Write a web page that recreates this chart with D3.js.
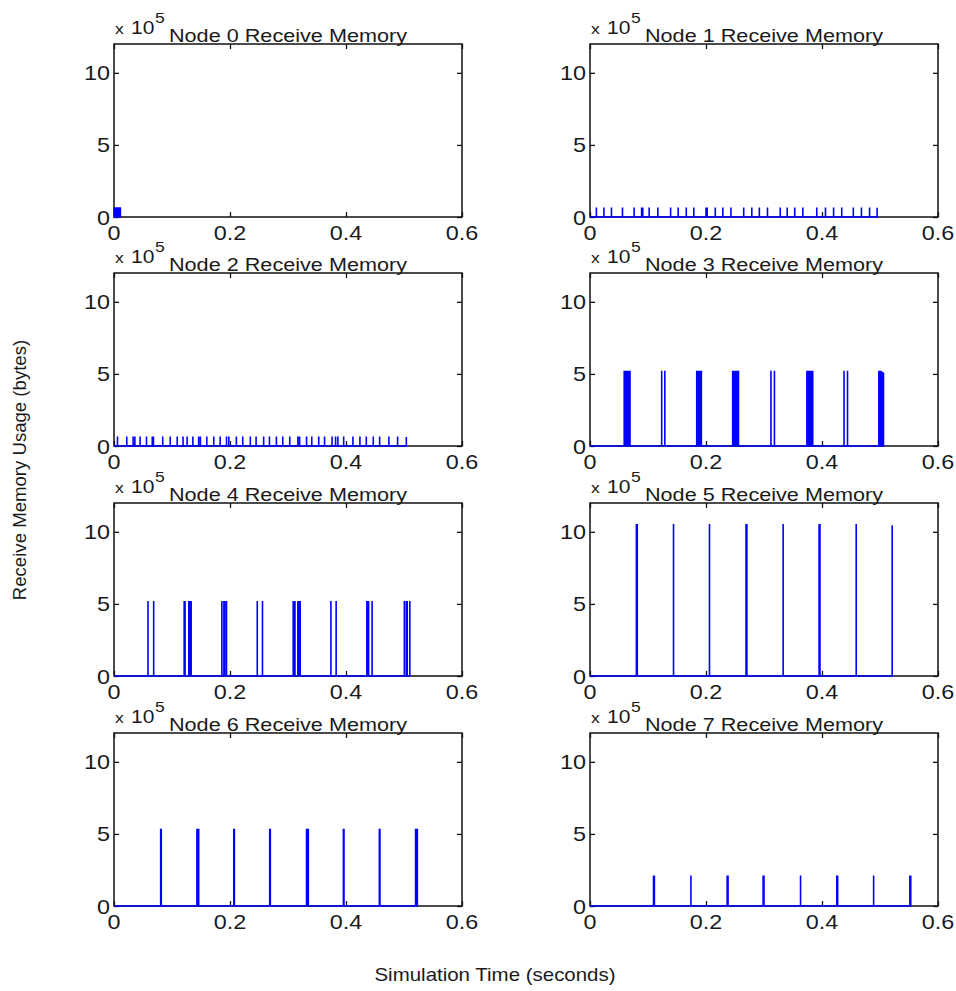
<!DOCTYPE html>
<html>
<head>
<meta charset="utf-8">
<script src="https://cdn.jsdelivr.net/npm/d3@7"></script>
<style>
  body { margin: 0; background: #fff; }
  svg text { font-family: "Liberation Sans", Arial, sans-serif; fill: #1a1a1a; }
</style>
</head>
<body>
<svg id="chart" width="956" height="991"></svg>
<script>
// spike events per node: [time (s), receive memory (x 10^5 bytes)]
let node0 = [[0.0005,0.67],[0.002,0.67],[0.0035,0.67],[0.005,0.67],[0.0065,0.67],[0.008,0.67],[0.0095,0.67],[0.011,0.67]]
let node1 = [[0.011,0.66],[0.024,0.66],[0.037,0.66],[0.056,0.66],[0.076,0.66],[0.089,0.66],[0.091,0.66],[0.102,0.66],
  [0.117,0.66],[0.139,0.66],[0.152,0.66],[0.166,0.66],[0.179,0.66],[0.200,0.66],[0.202,0.66],[0.216,0.66],[0.229,0.66],
  [0.243,0.66],[0.265,0.66],[0.279,0.66],[0.292,0.66],[0.306,0.66],[0.328,0.66],[0.340,0.66],[0.353,0.66],[0.367,0.66],
  [0.391,0.66],[0.406,0.66],[0.420,0.66],[0.434,0.66],[0.454,0.66],[0.468,0.66],[0.482,0.66],[0.495,0.64]]
let node2 = [[0.006,0.66],[0.022,0.66],[0.033,0.66],[0.036,0.66],[0.045,0.66],[0.056,0.66],[0.066,0.66],[0.068,0.66],
  [0.084,0.66],[0.097,0.66],[0.109,0.66],[0.119,0.66],[0.126,0.66],[0.136,0.66],[0.146,0.66],[0.149,0.66],[0.160,0.66],
  [0.172,0.66],[0.183,0.66],[0.194,0.66],[0.198,0.66],[0.211,0.66],[0.222,0.66],[0.235,0.66],[0.245,0.66],[0.258,0.66],
  [0.268,0.66],[0.280,0.66],[0.291,0.66],[0.303,0.66],[0.317,0.66],[0.320,0.66],[0.332,0.66],[0.341,0.66],[0.353,0.66],
  [0.363,0.66],[0.376,0.66],[0.382,0.66],[0.386,0.66],[0.396,0.66],[0.412,0.66],[0.424,0.66],[0.435,0.66],[0.447,0.66],
  [0.458,0.66],[0.474,0.66],[0.489,0.66],[0.504,0.62]]
let node3 = [[0.059,5.22],[0.061,5.22],[0.063,5.22],[0.065,5.22],[0.067,5.22],[0.069,5.22],
  [0.1236,5.22],[0.129,5.22],
  [0.184,5.22],[0.186,5.22],[0.188,5.22],[0.190,5.22],[0.192,5.22],
  [0.246,5.22],[0.248,5.22],[0.250,5.22],[0.252,5.22],[0.254,5.22],[0.256,5.22],
  [0.312,5.22],[0.318,5.22],
  [0.374,5.22],[0.376,5.22],[0.378,5.22],[0.380,5.22],[0.382,5.22],[0.384,5.22],
  [0.438,5.22],[0.444,5.22],
  [0.498,5.22],[0.500,5.22],[0.502,5.2],[0.504,5.15],[0.506,5.1]]
let node4 = [[0.0586,5.2],[0.0684,5.2],
  [0.121,5.2],[0.1225,5.2],[0.129,5.2],[0.1305,5.2],[0.133,5.2],
  [0.186,5.2],[0.1895,5.2],[0.191,5.2],[0.194,5.2],
  [0.247,5.2],[0.256,5.2],
  [0.309,5.2],[0.3105,5.2],[0.312,5.2],[0.317,5.2],[0.3185,5.2],[0.321,5.2],
  [0.374,5.2],[0.383,5.2],
  [0.436,5.2],[0.4375,5.2],[0.439,5.2],[0.445,5.2],
  [0.5006,5.2],[0.504,5.2],[0.5055,5.2],[0.510,5.2]]
let node5 = [[0.080,10.55],[0.0815,10.55],[0.144,10.55],[0.206,10.55],[0.269,10.55],[0.2705,10.55],[0.333,10.55],
  [0.395,10.55],[0.3965,10.55],[0.459,10.55],[0.521,10.45]]
let node6 = [[0.0805,5.35],[0.0815,5.35],[0.143,5.35],[0.1445,5.35],[0.146,5.35],[0.2065,5.35],[0.2075,5.35],
  [0.2685,5.35],[0.2695,5.35],[0.332,5.35],[0.3335,5.35],[0.335,5.35],[0.3955,5.35],[0.3965,5.35],
  [0.4575,5.35],[0.4585,5.35],[0.520,5.35],[0.5215,5.35],[0.523,5.35]]
let node7 = [[0.1095,2.12],[0.111,2.12],[0.174,2.12],[0.2365,2.12],[0.238,2.12],[0.2985,2.12],[0.300,2.12],
  [0.363,2.12],[0.4255,2.12],[0.427,2.12],[0.489,2.12],[0.5515,2.12],[0.553,2.12]]

let nodes = [node0,node1,node2,node3,node4,node5,node6,node7]
let titles = ['Node 0 Receive Memory','Node 1 Receive Memory','Node 2 Receive Memory','Node 3 Receive Memory',
  'Node 4 Receive Memory','Node 5 Receive Memory','Node 6 Receive Memory','Node 7 Receive Memory']
let xTicks = [0,0.2,0.4,0.6]
let yTicks = [0,5,10]

let svg = d3.select('#chart')
let colX = [114, 590], rowY = [44, 273, 503, 733]
let pw = 348, ph = 173
let stretch = 1.17

function label(g, x, y, s, size, anchor) {
  return g.append('text')
    .attr('transform', `translate(${x},${y}) scale(${stretch},1)`)
    .attr('text-anchor', anchor || 'start')
    .attr('font-size', size)
    .text(s)
}

nodes.forEach(function(data, i) {
  let x0 = colX[i % 2], y0 = rowY[Math.floor(i / 2)]
  let g = svg.append('g').attr('transform', `translate(${x0},${y0})`)
  let x = d3.scaleLinear().domain([0, 0.6]).range([0, pw])
  let y = d3.scaleLinear().domain([0, 12]).range([ph, 0])

  // inward ticks on all four sides
  let tk = 5
  g.append('g').attr('transform', `translate(0,${ph})`)
    .call(d3.axisBottom(x).tickValues(xTicks).tickSizeInner(-tk).tickSizeOuter(0).tickFormat(''))
  g.append('g')
    .call(d3.axisTop(x).tickValues(xTicks).tickSizeInner(-tk).tickSizeOuter(0).tickFormat(''))
  g.append('g')
    .call(d3.axisLeft(y).tickValues(yTicks).tickSizeInner(-tk).tickSizeOuter(0).tickFormat(''))
  g.append('g').attr('transform', `translate(${pw},0)`)
    .call(d3.axisRight(y).tickValues(yTicks).tickSizeInner(-tk).tickSizeOuter(0).tickFormat(''))
  g.selectAll('.domain').remove()
  g.selectAll('.tick line').attr('stroke', '#111').attr('stroke-width', 1.3)
  g.append('rect').attr('width', pw).attr('height', ph)
    .attr('fill', 'none').attr('stroke', '#111').attr('stroke-width', 1.5)

  xTicks.forEach(t => label(g, x(t), ph + 23, t === 0 ? '0' : String(t), 20, 'middle'))
  yTicks.forEach(t => label(g, -4, y(t) + 7.5, String(t), 20, 'end'))

  // spike trace
  let pts = [[0, 0]]
  data.forEach(function(d) { pts.push([d[0], 0], [d[0], d[1]], [d[0], 0]) })
  let line = d3.line().x(d => x(d[0])).y(d => y(d[1]))
  g.append('path').attr('d', line(pts))
    .attr('fill', 'none').attr('stroke', '#0000ff').attr('stroke-width', 1.6)

  label(g, pw / 2, -2.5, titles[i], 18.5, 'middle')
  label(g, 1, -10.5, 'x', 15, 'start')
  label(g, 17, -10.5, '10', 18, 'start')
  label(g, 41, -21.5, '5', 15, 'start')
})

svg.append('text')
  .attr('transform', 'translate(26,470) rotate(-90)')
  .attr('text-anchor', 'middle').attr('font-size', 18.6)
  .text('Receive Memory Usage (bytes)')
label(svg, 495, 981, 'Simulation Time (seconds)', 17.5, 'middle')
</script>
</body>
</html>
